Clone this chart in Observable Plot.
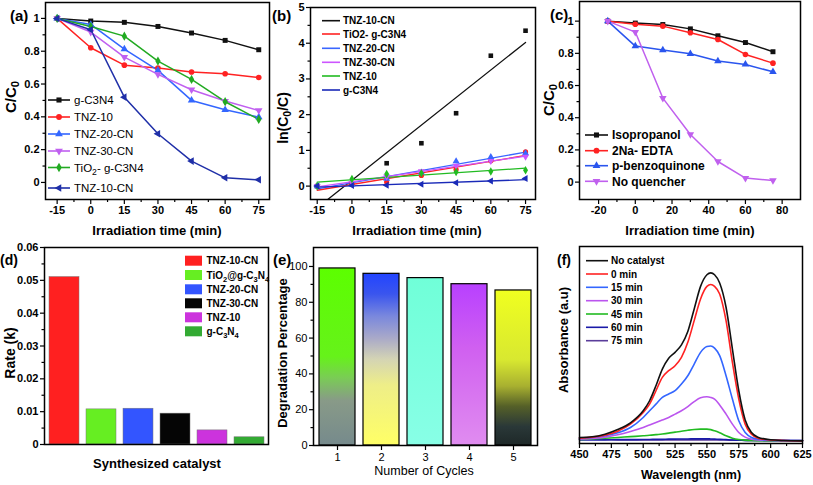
<!DOCTYPE html>
<html><head><meta charset="utf-8">
<script src="https://cdn.jsdelivr.net/npm/d3@7"></script>
<script src="https://cdn.jsdelivr.net/npm/@observablehq/plot@0.6"></script>
<style>
body{margin:0;background:#fff}
#root{position:relative;width:813px;height:485px;overflow:hidden;background:#fff}
</style></head><body><div id="root"></div>
<script>
// ---------- DATA ----------
// (a) C/C0 vs irradiation time
const timeA = [-15, 0, 15, 30, 45, 60, 75];
const seriesA = ["g-C3N4", "TNZ-10", "TNZ-20-CN", "TNZ-30-CN", "TiO_2- g-C3N4", "TNZ-10-CN"];
const gC3N4_a   = [1.0, 0.984, 0.976, 0.951, 0.911, 0.866, 0.809];
const tnz10_a   = [1.0, 0.821, 0.715, 0.697, 0.673, 0.663, 0.640];
const tnz20_a   = [1.0, 0.963, 0.813, 0.683, 0.500, 0.443, 0.398];
const tnz30_a   = [1.0, 0.917, 0.764, 0.659, 0.565, 0.496, 0.439];
const tio2_a    = [1.0, 0.951, 0.892, 0.740, 0.628, 0.492, 0.384];
const tnz10cn_a = [1.0, 0.931, 0.520, 0.297, 0.130, 0.028, 0.016];

// (b) ln(C0/C) vs time
const timeB = [-15, 0, 15, 30, 45, 60, 75];
const seriesB = ["TNZ-10-CN", "TiO2- g-C3N4", "TNZ-20-CN", "TNZ-30-CN", "TNZ-10", "g-C3N4"];
const tnz10cn_b = [0.0, 0.07, 0.64, 1.20, 2.04, 3.65, 4.35];
const tio2_b    = [0.0, 0.05, 0.114, 0.30, 0.465, 0.709, 0.957];
const tnz20_b   = [0.0, 0.038, 0.207, 0.381, 0.693, 0.814, 0.921];
const tnz30_b   = [0.0, 0.087, 0.269, 0.417, 0.571, 0.701, 0.823];
const tnz10_b   = [0.0, 0.197, 0.336, 0.361, 0.396, 0.411, 0.446];
const gC3N4_b   = [0.0, 0.016, 0.024, 0.050, 0.093, 0.144, 0.212];

// (c) scavenger tests
const timeC = [-15, 0, 15, 30, 45, 60, 75];
const seriesC = ["Isopropanol", "2Na- EDTA", "p-benzoquinone", "No quencher"];
const isopropanol = [1.0, 0.988, 0.979, 0.952, 0.909, 0.867, 0.810];
const edta        = [1.0, 0.981, 0.969, 0.928, 0.886, 0.793, 0.739];
const pbq         = [1.0, 0.845, 0.820, 0.797, 0.752, 0.731, 0.685];
const noQuencher  = [1.0, 0.932, 0.522, 0.296, 0.128, 0.025, 0.010];

// (d) rate constants
const catalysts = ["TNZ-10-CN", "TiO_2@g-C_3N_4", "TNZ-20-CN", "TNZ-30-CN", "TNZ-10", "g-C_3N_4"];
const rates = [0.0510, 0.0107, 0.0109, 0.0094, 0.0043, 0.0022];

// (e) recycling
const cycles = [1, 2, 3, 4, 5];
const degradation = [98.9, 95.9, 93.5, 90.1, 86.6];

// (f) absorption spectra
const wavelength = [450,460,470,480,490,500,505,510,515,520,525,530,535,540,545,550,553,556,560,565,570,575,580,585,590,600,610,625];
const seriesF = ["No catalyst", "0 min", "15 min", "30 min", "45 min", "60 min", "75 min"];
const absNoCat = [0.020,0.024,0.040,0.068,0.108,0.180,0.240,0.330,0.430,0.495,0.530,0.575,0.655,0.790,0.925,0.995,1.006,0.995,0.945,0.800,0.550,0.300,0.125,0.050,0.022,0.006,0.002,0.000];
const abs0  = [0.016,0.022,0.034,0.058,0.100,0.170,0.220,0.300,0.380,0.420,0.450,0.500,0.590,0.720,0.850,0.925,0.936,0.925,0.880,0.720,0.470,0.250,0.100,0.040,0.016,0.005,0.002,0.000];
const abs15 = [0.014,0.020,0.030,0.048,0.080,0.140,0.180,0.220,0.260,0.280,0.300,0.340,0.390,0.460,0.530,0.565,0.568,0.555,0.510,0.390,0.250,0.120,0.050,0.020,0.010,0.004,0.002,0.000];
const abs30 = [0.010,0.014,0.022,0.036,0.056,0.080,0.095,0.110,0.125,0.140,0.160,0.180,0.205,0.235,0.258,0.264,0.260,0.250,0.215,0.160,0.100,0.050,0.022,0.010,0.005,0.002,0.001,0.000];
const abs45 = [0.008,0.011,0.015,0.020,0.025,0.030,0.033,0.037,0.041,0.046,0.052,0.057,0.063,0.068,0.070,0.070,0.067,0.060,0.048,0.030,0.016,0.008,0.004,0.002,0.001,0.000,0.000,0.000];
const abs60 = [0.006,0.006,0.006,0.007,0.007,0.008,0.008,0.009,0.009,0.010,0.010,0.011,0.011,0.012,0.012,0.012,0.011,0.010,0.009,0.007,0.005,0.004,0.003,0.002,0.002,0.001,0.001,0.001];
const abs75 = [0.012,0.010,0.008,0.006,0.005,0.005,0.005,0.005,0.005,0.005,0.005,0.006,0.006,0.006,0.006,0.006,0.006,0.006,0.005,0.005,0.004,0.004,0.003,0.003,0.002,0.002,0.002,0.002];

// ---------- STYLES ----------
const FONT = '"Liberation Sans", Arial, Helvetica, sans-serif';
const styA = {
  "g-C3N4":        {c: "#111111", sym: "square",   rot: 0},
  "TNZ-10":        {c: "#ff2222", sym: "circle",   rot: 0},
  "TNZ-20-CN":     {c: "#3366ff", sym: "triangle", rot: 0},
  "TNZ-30-CN":     {c: "#c060f0", sym: "triangle", rot: 180},
  "TiO_2- g-C3N4": {c: "#22aa22", sym: "diamond",  rot: 0},
  "TNZ-10-CN":     {c: "#1f2fa8", sym: "triangle", rot: -90}
};
const styB = {
  "TNZ-10-CN":    {c: "#111111", sym: "square",   rot: 0},
  "TiO2- g-C3N4": {c: "#ff2222", sym: "circle",   rot: 0},
  "TNZ-20-CN":    {c: "#3a66ff", sym: "triangle", rot: 0},
  "TNZ-30-CN":    {c: "#cc55ff", sym: "triangle", rot: 180},
  "TNZ-10":       {c: "#22bb22", sym: "diamond",  rot: 0},
  "g-C3N4":       {c: "#1a2ab8", sym: "triangle", rot: -90}
};
const styC = {
  "Isopropanol":    {c: "#111111", sym: "square",   rot: 0},
  "2Na- EDTA":      {c: "#ff2222", sym: "circle",   rot: 0},
  "p-benzoquinone": {c: "#2a55ee", sym: "triangle", rot: 0},
  "No quencher":    {c: "#c060ee", sym: "triangle", rot: 180}
};
const colD = ["#ff2020", "#66ee22", "#3355ff", "#050505", "#cc33dd", "#33aa33"];
const colF = ["#111111", "#ff2222", "#3366ff", "#bb55ee", "#22bb22", "#1a1aa8", "#5a3d9a"];
const gradE = [
  [[0, "#5cff00"], [0.5, "#66f21a"], [0.62, "#7acc55"], [0.75, "#889a88"], [1, "#768a8c"]],
  [[0, "#2244ff"], [0.12, "#3a55ee"], [0.25, "#7a88dd"], [0.38, "#aaaac8"], [0.5, "#d4d4b4"], [0.65, "#eeee88"], [1, "#ffff66"]],
  [[0, "#70ffd8"], [1, "#88ffe6"]],
  [[0, "#b840ff"], [0.4, "#d060f0"], [1, "#e08cf0"]],
  [[0, "#f0ff20"], [0.45, "#d8e830"], [0.62, "#a8b030"], [0.75, "#556028"], [0.88, "#2a3838"], [1, "#1e2828"]]
];
const symbolTypes = {square: d3.symbolSquare, circle: d3.symbolCircle, triangle: d3.symbolTriangle, diamond: d3.symbolDiamond};

const baseStyle = {fontFamily: FONT, fontSize: "11px", fontWeight: "bold", color: "#000", background: "transparent", overflow: "visible"};

// ---------- HELPERS ----------
const root = document.getElementById("root");
function place(svg, left, top) {
  svg.style.position = "absolute";
  svg.style.left = left + "px";
  svg.style.top = top + "px";
  root.appendChild(svg);
}
function rows(series, xs, lists) {
  const out = [];
  series.forEach((s, i) => xs.forEach((x, j) => out.push({series: s, x, y: lists[i][j]})));
  return out;
}
function rich(t, label) {
  const parts = label.split(/(_.)/).filter(s => s);
  let sub = false;
  parts.forEach(p => {
    if (p.startsWith("_")) { t.append("tspan").attr("dy", 3).attr("font-size", "75%").text(p[1]); sub = true; }
    else { const s = t.append("tspan").text(p); if (sub) { s.attr("dy", -3); sub = false; } }
  });
}
function addText(svg, x, y, label, o = {}) {
  const t = d3.select(svg).append("text")
    .attr("font-family", FONT).attr("font-size", o.size || 13).attr("font-weight", o.weight || "bold")
    .attr("text-anchor", o.anchor || "middle").attr("fill", "#000").attr("dy", "0.35em");
  if (o.rotate) t.attr("transform", `translate(${x},${y}) rotate(-90)`);
  else t.attr("x", x).attr("y", y);
  rich(t, label);
}
function legend(svg, items, o) {
  const g = d3.select(svg).append("g").attr("font-family", FONT).attr("font-size", o.size)
    .attr("font-weight", o.weight || "bold").attr("text-anchor", "start");
  items.forEach((it, i) => {
    const y = o.ys[i];
    if (o.swatch) {
      g.append("rect").attr("x", o.x0).attr("y", y - o.sh / 2).attr("width", o.x1 - o.x0).attr("height", o.sh).attr("fill", it.color);
    } else {
      g.append("line").attr("x1", o.x0).attr("x2", o.x1).attr("y1", y).attr("y2", y).attr("stroke", it.color).attr("stroke-width", 1.6);
    }
    if (it.sym) {
      g.append("path").attr("d", d3.symbol(symbolTypes[it.sym], 26)())
        .attr("transform", `translate(${(o.x0 + o.x1) / 2},${y}) rotate(${it.rot || 0})`).attr("fill", it.color);
    }
    const t = g.append("text").attr("x", o.xt).attr("y", y).attr("dy", "0.35em").attr("fill", "#000");
    rich(t, it.label);
  });
}
const fmtG = d3.format("~g");
function axes(o) {
  const m = [];
  if (o.xt) m.push(Plot.axisX({ticks: o.xt, tickSize: 5, tickPadding: 2, tickFormat: o.xf || (d => String(d)), label: null, strokeWidth: 1.2}));
  if (o.xm) m.push(Plot.axisX({ticks: o.xm, tickSize: 3, tickFormat: () => "", label: null, strokeWidth: 1.2}));
  if (o.yt) m.push(Plot.axisY({ticks: o.yt, tickSize: 4, tickPadding: 2, tickFormat: o.yf || fmtG, label: null, strokeWidth: 1.2}));
  if (o.ym) m.push(Plot.axisY({ticks: o.ym, tickSize: 2.5, tickFormat: () => "", label: null, strokeWidth: 1.2}));
  return m;
}
function seriesMarks(data, series, sty, r) {
  return [
    ...series.map(s => Plot.line(data.filter(d => d.series === s), {x: "x", y: "y", stroke: sty[s].c, strokeWidth: 1.5})),
    ...series.map(s => Plot.dot(data.filter(d => d.series === s), {x: "x", y: "y", fill: sty[s].c, symbol: sty[s].sym, rotate: sty[s].rot, r}))
  ];
}

// ---------- (a) ----------
const dataA = rows(seriesA, timeA, [gC3N4_a, tnz10_a, tnz20_a, tnz30_a, tio2_a, tnz10cn_a]);
const plotA = Plot.plot({
  width: 270, height: 240, marginLeft: 45, marginRight: 1, marginTop: 2, marginBottom: 41,
  style: baseStyle,
  x: {domain: [-20.2, 79.8]}, y: {domain: [-0.104, 1.097]},
  marks: [
    ...seriesMarks(dataA, seriesA, styA, 2.8),
    Plot.frame({stroke: "#000", strokeWidth: 1.5}),
    ...axes({xt: [-15, 0, 15, 30, 45, 60, 75], xm: [-7.5, 7.5, 22.5, 37.5, 52.5, 67.5],
             yt: [0, 0.2, 0.4, 0.6, 0.8, 1], ym: [0.1, 0.3, 0.5, 0.7, 0.9]})
  ]
});
place(plotA, 0, 0);
legend(plotA, seriesA.map(s => ({label: s, color: styA[s].c, sym: styA[s].sym, rot: styA[s].rot})),
  {x0: 48, x1: 70, xt: 74, ys: [100, 117, 134, 151, 167.5, 188], size: 11.5, weight: "normal"});
addText(plotA, 157, 230, "Irradiation time (min)", {size: 13});
addText(plotA, 11, 97, "C/C_0", {size: 15, rotate: true});
addText(plotA, 10, 16, "(a)", {size: 15, anchor: "start"});

// ---------- (b) ----------
const dataB = rows(seriesB, timeB, [tnz10cn_b, tio2_b, tnz20_b, tnz30_b, tnz10_b, gC3N4_b]);
const plotB = Plot.plot({
  width: 270, height: 240, marginLeft: 40, marginRight: 5, marginTop: 7, marginBottom: 41,
  style: baseStyle,
  x: {domain: [-17.9, 79.3]}, y: {domain: [-0.375, 5]},
  marks: [
    ...seriesB.map(s => Plot.linearRegressionY(dataB.filter(d => d.series === s), {x: "x", y: "y", stroke: styB[s].c, strokeWidth: 1.3, ci: 0, clip: true})),
    ...seriesB.map(s => Plot.dot(dataB.filter(d => d.series === s), {x: "x", y: "y", fill: styB[s].c, symbol: styB[s].sym, rotate: styB[s].rot, r: 2.6, clip: true})),
    Plot.frame({stroke: "#000", strokeWidth: 1.5}),
    ...axes({xt: [-15, 0, 15, 30, 45, 60, 75], xm: [-7.5, 7.5, 22.5, 37.5, 52.5, 67.5],
             yt: [0, 1, 2, 3, 4, 5], ym: [0.5, 1.5, 2.5, 3.5, 4.5]})
  ]
});
place(plotB, 270, 0);
legend(plotB, seriesB.map(s => ({label: s, color: styB[s].c})),
  {x0: 52, x1: 70, xt: 73, ys: [20.7, 34, 48.3, 62.3, 76, 90], size: 10});
addText(plotB, 147, 230, "Irradiation time (min)", {size: 13});
addText(plotB, 13, 118, "ln(C_0/C)", {size: 14, rotate: true});
addText(plotB, 2, 16, "(b)", {size: 15, anchor: "start"});

// ---------- (c) ----------
const dataC = rows(seriesC, timeC, [isopropanol, edta, pbq, noQuencher]);
const plotC = Plot.plot({
  width: 273, height: 240, marginLeft: 39, marginRight: 13, marginTop: 1, marginBottom: 41,
  style: baseStyle,
  x: {domain: [-30.4, 90]}, y: {domain: [-0.108, 1.122]},
  marks: [
    ...seriesMarks(dataC, seriesC, styC, 2.8),
    Plot.frame({stroke: "#000", strokeWidth: 1.5}),
    ...axes({xt: [-20, 0, 20, 40, 60, 80], xm: [-10, 10, 30, 50, 70],
             yt: [0, 0.2, 0.4, 0.6, 0.8, 1], ym: [0.1, 0.3, 0.5, 0.7, 0.9]})
  ]
});
place(plotC, 540, 0);
legend(plotC, seriesC.map(s => ({label: s, color: styC[s].c, sym: styC[s].sym, rot: styC[s].rot})),
  {x0: 45, x1: 68, xt: 72, ys: [135, 150.7, 165.7, 181.3], size: 12});
addText(plotC, 150, 230, "Irradiation time (min)", {size: 13});
addText(plotC, 9, 100, "C/C_0", {size: 15, rotate: true});
addText(plotC, 10, 15, "(c)", {size: 15, anchor: "start"});

// ---------- (d) ----------
const dataD = catalysts.map((name, i) => ({name, rate: rates[i], i}));
const plotD = Plot.plot({
  width: 270, height: 245, marginLeft: 44, marginRight: 2, marginTop: 7, marginBottom: 41,
  style: baseStyle,
  x: {type: "band", domain: catalysts, paddingInner: 0.2, paddingOuter: 0.12, axis: null},
  y: {domain: [0, 0.06]},
  color: {type: "identity"},
  marks: [
    Plot.barY(dataD, {x: "name", y: "rate", fill: d => colD[d.i], stroke: "#777", strokeWidth: 0.5}),
    Plot.frame({stroke: "#000", strokeWidth: 1.5}),
    ...axes({yt: [0, 0.01, 0.02, 0.03, 0.04, 0.05, 0.06], ym: [0.005, 0.015, 0.025, 0.035, 0.045, 0.055]})
  ]
});
place(plotD, 0, 240);
legend(plotD, catalysts.map((s, i) => ({label: s, color: colD[i]})),
  {swatch: true, sh: 10, x0: 185, x1: 202, xt: 206.5, ys: [20.7, 35, 49.3, 63.3, 77.3, 91.3], size: 10});
addText(plotD, 157, 223, "Synthesized catalyst", {size: 13});
addText(plotD, 10, 113, "Rate (k)", {size: 14, rotate: true});
addText(plotD, 0, 20, "(d)", {size: 14, anchor: "start"});

// ---------- (e) ----------
const dataE = cycles.map((c, i) => ({c, v: degradation[i], i}));
const plotE = Plot.plot({
  width: 270, height: 245, marginLeft: 43, marginRight: 3, marginTop: 7, marginBottom: 40,
  style: {...baseStyle, fontWeight: "normal"},
  x: {type: "band", domain: cycles, paddingInner: 0.19, paddingOuter: 0.1},
  y: {domain: [0, 110.6]},
  color: {type: "identity"},
  marks: [
    Plot.barY(dataE, {x: "c", y: "v", fill: d => `url(#cycGrad${d.i})`, stroke: "#000", strokeWidth: 1.2}),
    Plot.frame({stroke: "#000", strokeWidth: 1.5}),
    Plot.axisX({tickSize: 5, tickPadding: 3, label: null, strokeWidth: 1.2}),
    ...axes({yt: [0, 20, 40, 60, 80, 100], ym: [10, 30, 50, 70, 90]})
  ]
});
{
  const defs = d3.select(plotE).insert("defs", ":first-child");
  gradE.forEach((stops, i) => {
    const g = defs.append("linearGradient").attr("id", "cycGrad" + i).attr("x1", 0).attr("y1", 0).attr("x2", 0).attr("y2", 1);
    stops.forEach(([o, c]) => g.append("stop").attr("offset", o).attr("stop-color", c));
  });
}
place(plotE, 270, 240);
addText(plotE, 154, 231, "Number of Cycles", {size: 12.5, weight: "normal"});
addText(plotE, 12, 113, "Degradation Percentage", {size: 13, rotate: true});
addText(plotE, 3, 20, "(e)", {size: 15, anchor: "start"});

// ---------- (f) ----------
const dataF = rows(seriesF, wavelength, [absNoCat, abs0, abs15, abs30, abs45, abs60, abs75]);
const plotF = Plot.plot({
  width: 273, height: 245, marginLeft: 39, marginRight: 11, marginTop: 6, marginBottom: 42,
  style: baseStyle,
  x: {domain: [450, 625]}, y: {domain: [-0.016, 1.164], axis: null},
  marks: [
    ...seriesF.slice().reverse().map(s => Plot.line(dataF.filter(d => d.series === s), {x: "x", y: "y", stroke: colF[seriesF.indexOf(s)], strokeWidth: 1.6, curve: "monotone-x"})),
    Plot.frame({stroke: "#000", strokeWidth: 1.5}),
    ...axes({xt: [450, 475, 500, 525, 550, 575, 600, 625], xm: [462.5, 487.5, 512.5, 537.5, 562.5, 587.5, 612.5]})
  ]
});
place(plotF, 540, 240);
legend(plotF, seriesF.map((s, i) => ({label: s, color: colF[i]})),
  {x0: 46, x1: 68, xt: 71, ys: [20.7, 34, 47.3, 60.7, 74, 87.3, 100.7], size: 10});
addText(plotF, 151, 235, "Wavelength (nm)", {size: 12.5});
addText(plotF, 23, 100, "Absorbance (a.u)", {size: 13, rotate: true});
addText(plotF, 17, 20, "(f)", {size: 14, anchor: "start"});
</script></body></html>
